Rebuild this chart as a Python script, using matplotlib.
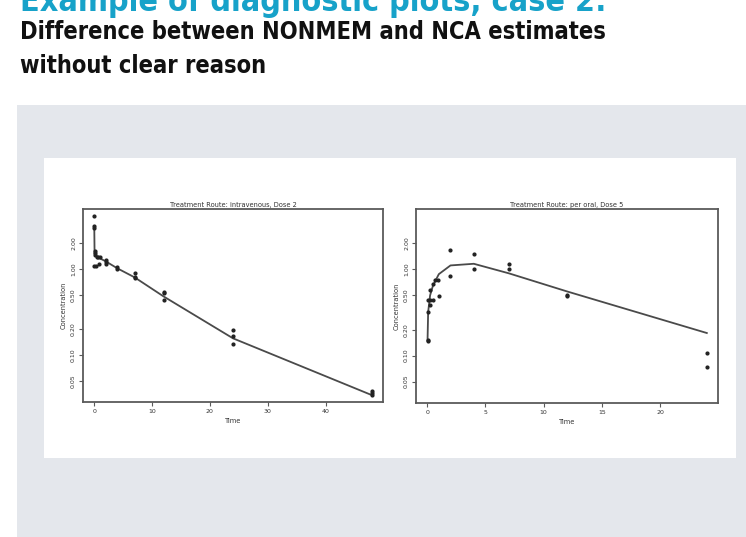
import matplotlib
matplotlib.use("Agg")
import matplotlib.pyplot as plt
from matplotlib.patches import Rectangle
from matplotlib.ticker import FixedLocator, FixedFormatter, NullLocator

# ---------------- data ----------------
title_text = "Example of diagnostic plots, case 2:"
subtitle_lines = ["Difference between NONMEM and NCA estimates", "without clear reason"]

panel_titles = ["Treatment Route: intravenous, Dose 2", "Treatment Route: per oral, Dose 5"]
x_label = "Time"
y_label = "Concentration"

y_ticks = [0.05, 0.10, 0.20, 0.50, 1.00, 2.00]
y_tick_labels = ["0.05", "0.10", "0.20", "0.50", "1.00", "2.00"]
x_ticks_iv = [0, 10, 20, 30, 40]
x_ticks_po = [0, 5, 10, 15, 20]

# intravenous, observed
t_iv = [0.03, 0.03, 0.03, 0.08, 0.08, 0.08, 0.05, 0.35, 0.9, 0.45, 0.75, 1.0,
        2, 2, 2, 4, 4, 7, 7, 7, 12, 12, 12, 24, 24, 24, 48, 48, 48]
c_iv = [4.13, 3.16, 2.97, 1.62, 1.52, 1.45, 1.08, 1.08, 1.13, 1.39, 1.37, 1.37,
        1.27, 1.20, 1.13, 1.05, 1.00, 0.89, 0.81, 0.79, 0.545, 0.52, 0.44,
        0.195, 0.164, 0.133, 0.038, 0.036, 0.034]
# intravenous, model prediction
tp_iv = [0.03, 0.08, 0.25, 0.5, 1, 2, 4, 7, 12, 24, 48]
cp_iv = [3.05, 1.50, 1.43, 1.39, 1.33, 1.23, 1.02, 0.80, 0.48, 0.156, 0.034]

# per oral, observed
t_po = [0.03, 0.03, 0.08, 0.08, 0.2, 0.23, 0.28, 0.49, 0.49, 0.66, 0.95, 1.0,
        2, 2, 4, 4, 7, 7, 12, 12, 24, 24]
c_po = [0.152, 0.146, 0.319, 0.436, 0.436, 0.39, 0.57, 0.445, 0.68, 0.745, 0.76, 0.49,
        1.69, 0.83, 1.52, 1.02, 1.16, 1.02, 0.51, 0.49, 0.107, 0.074]
# per oral, model prediction
tp_po = [0.03, 0.083, 0.25, 0.5, 1, 2, 4, 7, 12, 24]
cp_po = [0.15, 0.32, 0.50, 0.65, 0.88, 1.11, 1.16, 0.90, 0.555, 0.183]

# ---------------- figure ----------------
W, H = 746, 537
fig = plt.figure(figsize=(W / 100, H / 100), dpi=100)
fig.patch.set_facecolor("white")

def px_rect(x0, y0, x1, y1):
    return (x0 / W, 1 - y1 / H, (x1 - x0) / W, (y1 - y0) / H)

l, b, w, h = px_rect(17, 105, 746, 537)
fig.patches.append(Rectangle((l, b), w, h, transform=fig.transFigure,
                             facecolor="#e4e7ec", edgecolor="none", zorder=-10))
l, b, w, h = px_rect(44, 158, 736, 458)
fig.patches.append(Rectangle((l, b), w, h, transform=fig.transFigure,
                             facecolor="white", edgecolor="none", zorder=-9))

hdr_font = dict(family="DejaVu Sans", fontweight="bold", fontstretch="condensed")

renderer = fig.canvas.get_renderer()

def fitted_text(x, y, s, target_w, color, base=20):
    t = fig.text(x / W, 1 - y / H, s, fontsize=base, color=color,
                 ha="left", va="baseline", **hdr_font)
    ext = t.get_window_extent(renderer=renderer)
    t.set_fontsize(base * target_w / ext.width)
    return t

fitted_text(20, 11, title_text, 588, "#17a2c9")
t1 = fitted_text(20, 39, subtitle_lines[0], 587, "#111111")
fig.text(20 / W, 1 - 73 / H, subtitle_lines[1], fontsize=t1.get_fontsize(),
         color="#111111", ha="left", va="baseline", **hdr_font)

frame_col = "#5a5a5a"
txt_col = "#333333"

def setup(ax, xt, xlim, title):
    ax.set_zorder(1)
    ax.set_yscale("log")
    ax.set_xlim(*xlim)
    ax.set_ylim(0.0283, 5.0)
    ax.yaxis.set_major_locator(FixedLocator(y_ticks))
    ax.yaxis.set_major_formatter(FixedFormatter(y_tick_labels))
    ax.yaxis.set_minor_locator(NullLocator())
    ax.set_xticks(xt)
    ax.set_xticklabels([str(v) for v in xt])
    for s in ax.spines.values():
        s.set_color(frame_col)
        s.set_linewidth(1.3)
    ax.tick_params(axis="both", which="major", direction="out", length=3,
                   width=0.8, color=frame_col, labelsize=4.5, labelcolor=txt_col, pad=2)
    for lab in ax.get_yticklabels():
        lab.set_rotation(90)
        lab.set_va("center")
    ax.set_title(title, fontsize=4.8, color=txt_col, pad=1.5)
    ax.set_xlabel(x_label, fontsize=4.8, color=txt_col, labelpad=3)
    ax.set_ylabel(y_label, fontsize=4.8, color=txt_col, labelpad=3)

ax1 = fig.add_axes(px_rect(83, 209, 383, 402))
ax1.plot(tp_iv, cp_iv, color="#4a4a4a", lw=1.3, zorder=2)
ax1.plot(t_iv, c_iv, ls="none", marker="o", ms=2.0, color="#222222", zorder=3)
setup(ax1, x_ticks_iv, (-1.92, 49.92), panel_titles[0])

ax2 = fig.add_axes(px_rect(416, 209, 718, 403))
ax2.plot(tp_po, cp_po, color="#4a4a4a", lw=1.3, zorder=2)
ax2.plot(t_po, c_po, ls="none", marker="o", ms=2.0, color="#222222", zorder=3)
setup(ax2, x_ticks_po, (-0.96, 24.96), panel_titles[1])

fig.savefig("out.png", dpi=100, facecolor=fig.get_facecolor())
